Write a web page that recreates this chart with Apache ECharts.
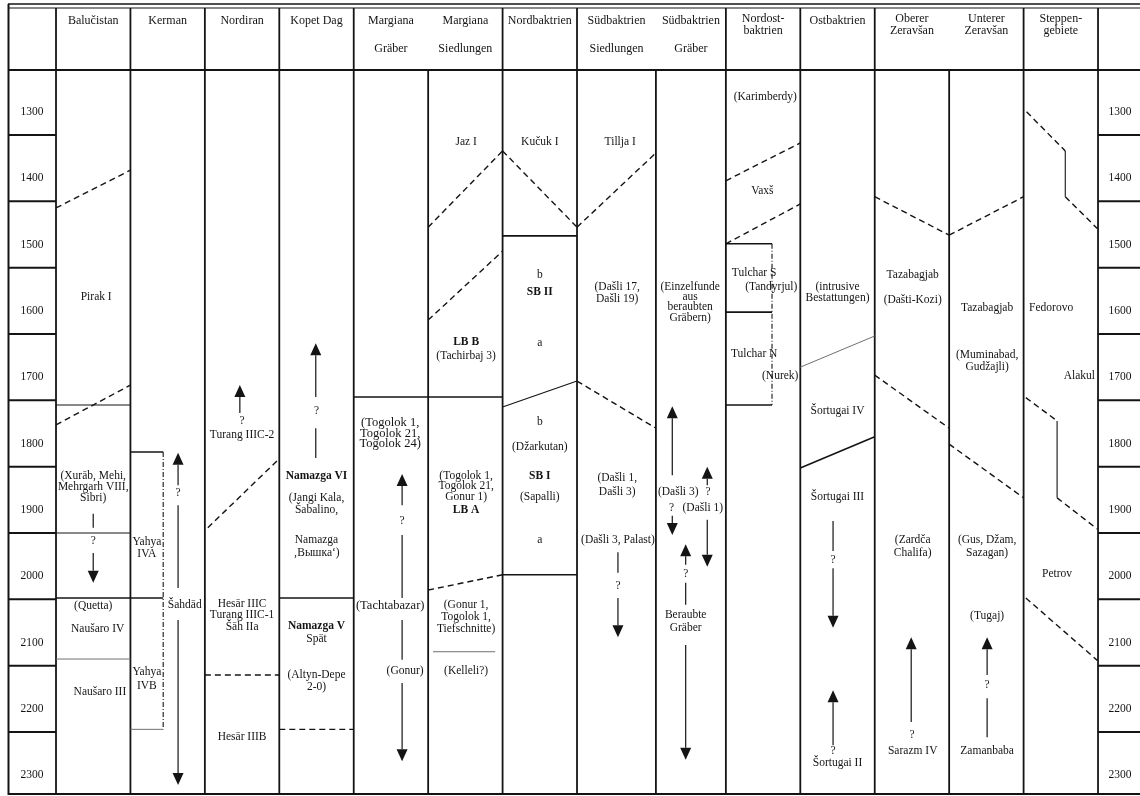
<!DOCTYPE html>
<html><head><meta charset="utf-8">
<script src="https://cdn.jsdelivr.net/npm/echarts@6/dist/echarts.min.js"></script>
<style>html,body{margin:0;padding:0;background:#fff}#c{width:1140px;height:796px}</style>
</head><body><div id="c"></div>
<script>
// ---------- DATA (x in column units, y in years BC) ----------
const regions = [['Balučistan'],['Kerman'],['Nordiran'],['Kopet Dag'],['Margiana','Gräber'],['Margiana','Siedlungen'],
  ['Nordbaktrien'],['Südbaktrien','Siedlungen'],['Südbaktrien','Gräber'],['Nordost-','baktrien'],['Ostbaktrien'],
  ['Oberer','Zeravšan'],['Unterer','Zeravšan'],['Steppen-','gebiete']];
const colEdges = [0,1,2,3,4,5,6,7,8.06,9,10,11,12,13,14];
const headerEdges = [0,1,2,3,4,6,7,9,10,11,13,14];
const yearTicks = [1300,1400,1500,1600,1700,1800,1900,2000,2100,2200,2300];
const yearRowLines = [1350,1450,1550,1650,1750,1850,1950,2050,2150,2250];

const solidLines = [[0,2048,1.44,2048],[1,1828,1.44,1828],[3,2048,4,2048],[4,1745,6,1745],[6,1502,7,1502],
  [6,2013,7,2013],[9,1514,9.62,1514],[9,1617,9.62,1617],[9,1757,9.62,1757],[10,1852,11,1805]];
const thinLines = [[0,1757,1,1757],[0,1950,1,1950],[6,1760,7,1721],[13.56,1374,13.56,1443],[13.45,1781,13.45,1897]];
const grayLines = [[0,2140,1,2140],[1,2246,1.44,2246],[5.065,2129,5.9,2129],[10,1700,11,1653]];
const dashedLines = [[0,1460,1,1403],[0,1787,1,1727],[2.04,1942,3,1838],[2,2164,3,2164],[3,2246,4,2246],
  [5,1489,6,1374],[5,1629,6,1525],[5,2036,6,2013],[6,1374,7,1489],[7,1489,8.06,1377],[7,1721,8.06,1792],
  [9,1419,10,1362],[9,1514,10,1454],[11,1443,12,1501],[11,1712,12,1792],[12,1501,13,1443],[12,1816,13,1897],
  [13.04,1315,13.56,1374],[13.56,1443,13.99,1491],[13.03,1746,13.45,1781],[13.45,1897,13.99,1944],[13.03,2048,13.99,2142]];
const dashDotLines = [[1.44,1828,1.44,2246],[9.62,1514,9.62,1757]];
const stemLines = [[0.5,1921,0.5,1942],[1.64,1908,1.64,2033],[3.49,1792,3.49,1837],[4.65,1953,4.65,2048],
  [4.65,2081,4.65,2141],[7.55,1979,7.55,2010],[8.46,2025,8.46,2058],[10.44,1932,10.44,1977],[12.51,2199,12.51,2258]];
const arrows = [[0.5,1980,2025],[1.64,1878,1829],[1.64,2081,2330],[2.47,1769,1727],[3.49,1745,1664],
  [4.65,1908,1861],[4.65,2176,2294],[7.55,2048,2107],[8.28,1863,1759],[8.28,1924,1953],[8.75,1878,1850],
  [8.75,1930,2001],[8.46,1998,1967],[8.46,2119,2292],[10.44,2003,2093],[10.44,2270,2187],[11.49,2235,2107],[12.51,2164,2107]];

const labels = [
  [0.54,1594,'Pirak I'],[0.5,1864,'(Xurāb, Mehi,'],[0.5,1880,'Mehrgarh VIII,'],[0.5,1897,'Sibri)'],[0.5,1962,'?'],
  [0.5,2060,'(Quetta)'],[0.56,2095,'Naušaro IV'],[0.59,2190,'Naušaro III'],
  [1.22,1963,'Yahya'],[1.22,1982,'IVA'],[1.22,2159,'Yahya'],[1.22,2180,'IVB'],[1.64,1890,'?'],[1.73,2059,'Šahdād'],
  [2.5,1781,'?'],[2.5,1802,'Turang IIIC-2'],[2.5,2057,'Hesār IIIC'],[2.5,2074,'Turang IIIC-1'],[2.5,2092,'Šāh IIa'],[2.5,2258,'Hesār IIIB'],
  [3.5,1766,'?'],[3.5,1897,'(Jangi Kala,'],[3.5,1915,'Šabalino,'],[3.5,1961,'Namazga'],[3.5,1980,'‚Вышка‘)'],
  [3.5,2110,'Spät'],[3.5,2164,'(Altyn-Depe'],[3.5,2182,'2-0)'],
  [4.65,1932,'?'],[4.69,2158,'(Gonur)'],
  [5.51,1361,'Jaz I'],[5.51,1683,'(Tachirbaj 3)'],[5.51,1864,'(Togolok 1,'],[5.51,1879,'Togolok 21,'],[5.51,1896,'Gonur 1)'],
  [5.51,2059,'(Gonur 1,'],[5.51,2077,'Togolok 1,'],[5.51,2095,'Tiefschnitte)'],[5.51,2158,'(Kelleli?)'],
  [6.5,1361,'Kučuk I'],[6.5,1561,'b'],[6.5,1664,'a'],[6.5,1783,'b'],[6.5,1820,'(Džarkutan)'],[6.5,1896,'(Sapalli)'],[6.5,1961,'a'],
  [7.58,1361,'Tillja I'],[7.54,1579,'(Dašli 17,'],[7.54,1597,'Dašli 19)'],[7.54,1867,'(Dašli 1,'],[7.54,1888,'Dašli 3)'],
  [7.55,1961,'(Dašli 3, Palast)'],[7.55,2030,'?'],
  [8.52,1579,'(Einzelfunde'],[8.52,1594,'aus'],[8.52,1609,'beraubten'],[8.52,1626,'Gräbern)'],
  [8.36,1888,'(Dašli 3)'],[8.27,1912,'?'],[8.76,1888,'?'],[8.69,1912,'(Dašli 1)'],[8.46,2012,'?'],[8.46,2074,'Beraubte'],[8.46,2093,'Gräber'],
  [9.53,1293,'(Karimberdy)'],[9.49,1434,'Vaxš'],[9.38,1558,'Tulchar S'],[9.61,1579,'(Tandyrjul)'],[9.38,1680,'Tulchar N'],[9.73,1713,'(Nurek)'],
  [10.5,1579,'(intrusive'],[10.5,1596,'Bestattungen)'],[10.5,1766,'Šortugai IV'],[10.5,1896,'Šortugai III'],
  [10.44,1991,'?'],[10.44,2279,'?'],[10.5,2297,'Šortugai II'],
  [11.51,1561,'Tazabagjab'],[11.51,1599,'(Dašti-Kozi)'],[11.51,1961,'(Zardča'],[11.51,1980,'Chalifa)'],[11.5,2255,'?'],[11.51,2279,'Sarazm IV'],
  [12.51,1611,'Tazabagjab'],[12.51,1682,'(Muminabad,'],[12.51,1700,'Gudžajli)'],[12.51,1961,'(Gus, Džam,'],[12.51,1980,'Sazagan)'],
  [12.51,2075,'(Tugaj)'],[12.51,2179,'?'],[12.51,2279,'Zamanbaba'],
  [13.37,1611,'Fedorovo'],[13.75,1713,'Alakul'],[13.45,2012,'Petrov']
];
const largeLabels = [[4.49,1784,'(Togolok 1,'],[4.49,1800,'Togolok 21,'],[4.49,1816,'Togolok 24)'],[4.49,2059,'(Tachtabazar)']];
const boldLabels = [[3.5,1864,'Namazga VI'],[3.5,2090,'Namazga V'],[5.51,1662,'LB B'],[5.51,1915,'LB A'],
  [6.5,1587,'SB II'],[6.5,1864,'SB I']];

// ---------- RENDERING ----------
const INK = '#141414';
const SERIF = '"Liberation Serif", "DejaVu Serif", serif';
const FONT = '11.5px ' + SERIF;
const HEAD = '12px ' + SERIF;
const LARGE = '12.5px ' + SERIF;
const BOLD = 'bold 11.5px ' + SERIF;
const TIGHT = 12, SPACED = 28;

function txt(x, y, text, font, align) {
  return { type: 'text', style: { x, y, text, font, fill: INK, align: align || 'center', verticalAlign: 'middle',
    textAlign: align || 'center', textVerticalAlign: 'middle' } };
}
function base(name, data, renderItem) {
  return { type: 'custom', name, coordinateSystem: 'cartesian2d', data, clip: false, silent: true, renderItem, z: 2 };
}
function segSeries(name, data, style) {
  return base(name, data, function (params, api) {
    const a = api.coord([api.value(0), api.value(1)]);
    const b = api.coord([api.value(2), api.value(3)]);
    return { type: 'line', shape: { x1: a[0], y1: a[1], x2: b[0], y2: b[1] }, style: Object.assign({ fill: null }, style) };
  });
}
function labelSeries(name, data, font) {
  return base(name, data, function (params, api) {
    const p = api.coord([api.value(0), api.value(1)]);
    return txt(p[0], p[1], data[params.dataIndex][2], font);
  });
}

const frameSeries = base('frame', [[0, 1300]], function (params, api) {
  const cs = params.coordSys;
  const top = cs.y, bottom = cs.y + cs.height, left = cs.x, right = cs.x + cs.width;
  const X = u => api.coord([u, 1300])[0];
  const ch = [];
  const ln = (x1, y1, x2, y2, w) => ch.push({ type: 'line', shape: { x1, y1, x2, y2 }, style: { stroke: INK, lineWidth: w } });
  ln(left, top - 66, right, top - 66, 1.6);
  ln(left, top - 62, right, top - 62, 1.2);
  ln(left, top, right, top, 2);
  ln(left, bottom - 1, right, bottom - 1, 2);
  ln(left + 0.5, top - 66, left + 0.5, bottom, 2);
  headerEdges.forEach(e => ln(X(e), top - 62, X(e), top, 1.8));
  colEdges.forEach(e => ln(X(e), top, X(e), bottom, 1.8));
  regions.forEach((r, i) => {
    const cx = (X(colEdges[i]) + X(colEdges[i + 1])) / 2;
    if (r.length === 1) ch.push(txt(cx, top - 49, r[0], HEAD));
    else {
      const spaced = (r[0] === 'Margiana' || r[0] === 'Südbaktrien');
      const y0 = spaced ? top - 49 : top - 51;
      ch.push(txt(cx, y0, r[0], HEAD));
      ch.push(txt(cx, y0 + (spaced ? SPACED : TIGHT), r[1], HEAD));
    }
  });
  return { type: 'group', children: ch };
});

const rowSeries = base('yearRows', yearRowLines.map(v => [0, v]), function (params, api) {
  const cs = params.coordSys;
  const p0 = api.coord([0, api.value(1)]);
  const p14 = api.coord([14, api.value(1)]);
  const st = { stroke: INK, lineWidth: 2 };
  return { type: 'group', children: [
    { type: 'line', shape: { x1: cs.x, y1: p0[1], x2: p0[0], y2: p0[1] }, style: st },
    { type: 'line', shape: { x1: p14[0], y1: p14[1], x2: cs.x + cs.width, y2: p14[1] }, style: st }
  ] };
});
const yearLabelSeries = base('yearLabels', yearTicks.map(v => [0, v]), function (params, api) {
  const cs = params.coordSys;
  const p0 = api.coord([0, api.value(1)]);
  const p14 = api.coord([14, api.value(1)]);
  const half = (p0[0] - cs.x) / 2;
  return { type: 'group', children: [
    txt(cs.x + half, p0[1] + 10, String(yearTicks[params.dataIndex]), FONT),
    txt(p14[0] + half - 2, p14[1] + 10, String(yearTicks[params.dataIndex]), FONT)
  ] };
});

const arrowSeries = base('arrows', arrows, function (params, api) {
  const a = api.coord([api.value(0), api.value(1)]);
  const b = api.coord([api.value(0), api.value(2)]);
  const dir = b[1] > a[1] ? 1 : -1;
  const hb = b[1] - dir * 12;
  return { type: 'group', children: [
    { type: 'line', shape: { x1: a[0], y1: a[1], x2: a[0], y2: hb }, style: { stroke: INK, lineWidth: 1.2 } },
    { type: 'polygon', shape: { points: [[b[0], b[1]], [b[0] - 5.5, hb], [b[0] + 5.5, hb]] }, style: { fill: INK } }
  ] };
});

const option = {
  backgroundColor: '#ffffff',
  animation: false,
  grid: { left: 8, right: 0, top: 70, bottom: 1 },
  xAxis: { type: 'value', min: -0.645, max: 14.564, show: false },
  yAxis: { type: 'value', min: 1252, max: 2345, inverse: true, show: false },
  series: [
    frameSeries, rowSeries, yearLabelSeries,
    segSeries('solid', solidLines, { stroke: INK, lineWidth: 1.6 }),
    segSeries('thin', thinLines, { stroke: INK, lineWidth: 1.1 }),
    segSeries('gray', grayLines, { stroke: '#707070', lineWidth: 1 }),
    segSeries('dashed', dashedLines, { stroke: INK, lineWidth: 1.4, lineDash: [6, 4] }),
    segSeries('dashDot', dashDotLines, { stroke: INK, lineWidth: 1.1, lineDash: [5, 2, 1, 2] }),
    segSeries('stems', stemLines, { stroke: INK, lineWidth: 1.2 }),
    arrowSeries,
    labelSeries('labels', labels, FONT),
    labelSeries('large', largeLabels, LARGE),
    labelSeries('bold', boldLabels, BOLD)
  ]
};
const chart = echarts.init(document.getElementById('c'), null, { renderer: 'canvas' });
chart.setOption(option);
</script></body></html>
